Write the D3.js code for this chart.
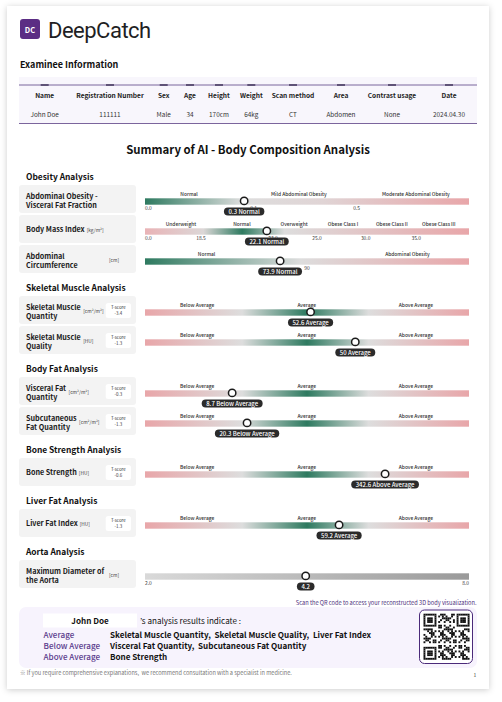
<!DOCTYPE html>
<html><head><meta charset="utf-8">
<script src="https://cdn.jsdelivr.net/npm/d3@7"></script>
<style>
html,body{margin:0;padding:0;background:#fff;}
svg{display:block;}
text{font-family:"Noto Sans CJK KR","Noto Sans",sans-serif;}
.pre{white-space:pre;}
</style></head><body>
<svg id="c" width="502" height="702"></svg>
<script>
// ---------------- DATA ----------------
const examineeFields = ["Name","Registration Number","Sex","Age","Height","Weight","Scan method","Area","Contrast usage","Date"];
const examineeValues = ["John Doe","111111","Male","34","170cm","64kg","CT","Abdomen","None","2024.04.30"];

const sectionTitles = ["Obesity Analysis","Skeletal Muscle Analysis","Body Fat Analysis","Bone Strength Analysis","Liver Fat Analysis","Aorta Analysis"];
const metricNames = [
  ["Abdominal Obesity -","Visceral Fat Fraction"],
  ["Body Mass Index"],
  ["Abdominal","Circumference"],
  ["Skeletal Muscle","Quantity"],
  ["Skeletal Muscle","Quality"],
  ["Visceral Fat","Quantity"],
  ["Subcutaneous","Fat Quantity"],
  ["Bone Strength"],
  ["Liver Fat Index"],
  ["Maximum Diameter of","the Aorta"]
];
const metricSection = [0,0,0,1,1,2,2,3,4,5];
const metricUnits = ["","[kg/m²]","[cm]","[cm²/m²]","[HU]","[cm²/m²]","[cm²/m²]","[HU]","[HU]","[cm]"];
const tScores = [null,null,null,"-3.4","-1.3","-0.3","-1.3","-0.6","-1.3",null];
// marker position along the gauge, in percent of the gauge
const markerPercent = [30.6,37.6,41.7,51.1,64.9,26.9,31.5,74.1,59.9,49.6];
const valueLabels = ["0.3 Normal","22.1 Normal","73.9 Normal","52.6 Average","50 Average","8.7 Below Average","20.3 Below Average","342.6 Above Average","59.2 Average","4.2"];
const tCats = ["Below Average","Average","Above Average"];
const categoryLabels = [
  ["Normal","Mild Abdominal Obesity","Moderate Abdominal Obesity"],
  ["Underweight","Normal","Overweight","Obese Class I","Obese Class II","Obese Class III"],
  ["Normal","Abdominal Obesity"],
  tCats,tCats,tCats,tCats,tCats,tCats,
  []
];
const tickLabels = [
  ["0.0","0.1","0.5"],
  ["0.0","18.5","23.0","25.0","30.0","35.0"],
  ["90"],
  [],[],[],[],[],[],
  ["2.0","8.0"]
];
const summaryName = "John Doe";
const summaryGroups = ["Average","Below Average","Above Average"];
const summaryItems = [
  "Skeletal Muscle Quantity,  Skeletal Muscle Quality,  Liver Fat Index",
  "Visceral Fat Quantity,  Subcutaneous Fat Quantity",
  "Bone Strength"
];

// ---------------- LAYOUT (positions in percent of gauge) ----------------
const catPos = [
  [13.6,47.5,83.6],
  [11.1,29.9,46.0,61.1,76.2,90.7],
  [19,81],
  [16.1,49.9,83.6],[16.1,49.9,83.6],[16.1,49.9,83.6],[16.1,49.9,83.6],[16.1,49.9,83.6],[16.1,49.9,83.6],
  []
];
const tickPos = [
  [0,33.5,65.3],
  [0,17.3,39.5,53.1,68.1,83.7],
  [50],
  [],[],[],[],[],[],
  [0,100]
];
const colX = [44.7,110,163.7,190,219,251.3,293,341,392,449];

const G="#2e7a60", GR="#dddddd", PK="#e8a6a9";
const gradStops = {
  obes:[[0,G],[0.3,GR],[0.55,"#e0d4d5"],[1,PK]],
  bmi:[[0,"#e9b3b6"],[0.18,"#dcd7d7"],[0.3,G],[0.43,GR],[1,PK]],
  circ:[[0,G],[0.48,GR],[1,PK]],
  t:[[0,PK],[0.3,GR],[0.5,G],[0.69,GR],[1,PK]],
  aorta:[[0,"#d9d9d9"],[1,"#9a9a9a"]]
};
const rowGrad = ["obes","bmi","circ","t","t","t","t","t","t","aorta"];

// ---------------- DRAW ----------------
const svg = d3.select("#c");
const defs = svg.append("defs");
const flt = defs.append("filter").attr("id","sh").attr("x","-5%").attr("y","-5%").attr("width","110%").attr("height","110%");
flt.append("feDropShadow").attr("dx",0).attr("dy",1).attr("stdDeviation",3).attr("flood-color","#000").attr("flood-opacity",0.2);
Object.entries(gradStops).forEach(([k,stops])=>{
  const lg = defs.append("linearGradient").attr("id","g_"+k).attr("x1","0%").attr("x2","100%");
  stops.forEach(s=>lg.append("stop").attr("offset",s[0]).attr("stop-color",s[1]));
});

svg.append("rect").attr("x",7).attr("y",6).attr("width",482).attr("height",683).attr("fill","#fff").attr("filter","url(#sh)");

// logo
svg.append("rect").attr("x",20).attr("y",19).attr("width",20).attr("height",20).attr("rx",3).attr("fill","#5b2d84");
svg.append("text").attr("x",30).attr("y",29.5).attr("text-anchor","middle").attr("dominant-baseline","central")
  .attr("fill","#fff").attr("font-size",7.5).attr("font-weight",700).text("DC");
svg.append("text").attr("x",48).attr("y",37.5).style("font-family","Roboto")
  .attr("font-size",22).attr("letter-spacing",-0.5).attr("fill","#1f1f24").text("DeepCatch");

// examinee info
svg.append("text").attr("x",20).attr("y",64.5).attr("dominant-baseline","central").attr("font-size",9)
  .attr("font-weight",700).attr("fill","#111").text("Examinee Information");
svg.append("rect").attr("x",19).attr("y",77).attr("width",458).attr("height",47).attr("fill","#f8f6fc");
svg.append("line").attr("x1",19).attr("x2",477).attr("y1",85).attr("y2",85).attr("stroke","#6c5592").attr("stroke-width",0.9);
svg.append("line").attr("x1",19).attr("x2",477).attr("y1",123.5).attr("y2",123.5).attr("stroke","#6c5592").attr("stroke-width",0.9);
const cols = svg.append("g").selectAll("g").data(examineeFields).join("g");
cols.append("rect").attr("x",(d,i)=>colX[i]-4).attr("y",84.2).attr("width",8).attr("height",1.6).attr("fill","#4a3d63");
cols.append("text").attr("x",(d,i)=>colX[i]).attr("y",94.8).attr("text-anchor","middle").attr("dominant-baseline","central")
  .attr("font-size",6.6).attr("font-weight",700).attr("fill","#222").text(d=>d);
cols.append("text").attr("x",(d,i)=>colX[i]).attr("y",114.3).attr("text-anchor","middle").attr("dominant-baseline","central")
  .attr("font-size",6.4).attr("fill","#333").text((d,i)=>examineeValues[i]);

// title
svg.append("text").attr("x",248).attr("y",149).attr("text-anchor","middle").attr("dominant-baseline","central")
  .attr("font-size",11.4).attr("font-weight",700).attr("fill","#111").text("Summary of AI - Body Composition Analysis");

// gauge scale
const X0=145, X1=469;
const xs = d3.scaleLinear().domain([0,100]).range([X0,X1]);

let y = 176;
sectionTitles.forEach((title,si)=>{
  svg.append("text").attr("x",26).attr("y",y).attr("dominant-baseline","central").attr("font-size",8.4)
    .attr("font-weight",700).attr("fill","#111").text(title);
  const rows = metricSection.map((s,i)=>s===si?i:-1).filter(i=>i>=0);
  rows.forEach((mi,ri)=>{
    const top = y+9+30*ri;
    const g = svg.append("g");
    g.append("rect").attr("x",19).attr("y",top).attr("width",117).attr("height",28).attr("rx",3).attr("fill","#f3f3f3");
    const lines = metricNames[mi];
    const lineY = lines.length===1 ? [top+14] : [top+10.6,top+19.8];
    let maxW = 0;
    lines.forEach((ln,li)=>{
      const t = g.append("text").attr("x",26).attr("y",lineY[li]).attr("dominant-baseline","central")
        .attr("font-size",7.2).attr("font-weight",700).attr("fill","#1a1a1a").text(ln);
      maxW = Math.max(maxW, t.node().getComputedTextLength());
    });
    if (metricUnits[mi]) {
      const u = g.append("text").attr("dominant-baseline","central").attr("font-size",4.8).attr("fill","#444").text(metricUnits[mi]);
      if (lines.length===1) u.attr("x",26+maxW+2).attr("y",top+14.3);
      else if (tScores[mi]===null) u.attr("x",Math.max(109,26+maxW+3)).attr("y",top+14.5);
      else u.attr("x",26+maxW+2.5).attr("y",top+14.5);
    }
    if (tScores[mi]!==null) {
      g.append("rect").attr("x",105.7).attr("y",top+7).attr("width",25.3).attr("height",15).attr("rx",2.5).attr("fill","#fff");
      g.append("text").attr("x",118.3).attr("y",top+11.3).attr("text-anchor","middle").attr("dominant-baseline","central")
        .attr("font-size",4.4).attr("fill","#333").text("T-score");
      g.append("text").attr("x",118.3).attr("y",top+17.3).attr("text-anchor","middle").attr("dominant-baseline","central")
        .attr("font-size",4.4).attr("fill","#333").text(tScores[mi]);
    }
    // gauge
    const by = top+16.5;
    g.append("rect").attr("x",X0).attr("y",by-3.2).attr("width",X1-X0).attr("height",6.4).attr("fill","url(#g_"+rowGrad[mi]+")");
    g.selectAll("text.cat").data(categoryLabels[mi]).join("text").attr("class","cat")
      .attr("x",(d,i)=>xs(catPos[mi][i])).attr("y",by-8.5).attr("text-anchor","middle").attr("dominant-baseline","central")
      .attr("font-size",4.9).attr("font-weight",500).attr("fill","#333").text(d=>d);
    g.selectAll("text.tick").data(tickLabels[mi]).join("text").attr("class","tick")
      .attr("x",(d,i)=>xs(tickPos[mi][i])).attr("y",by+6.3).attr("dominant-baseline","central")
      .attr("text-anchor",(d,i)=>tickPos[mi][i]===0?"start":(tickPos[mi][i]===100?"end":"middle"))
      .attr("font-size",4.9).attr("fill","#333").text(d=>d);
    const mx = xs(markerPercent[mi]);
    const pill = g.append("g");
    const pt = pill.append("text").attr("x",mx).attr("y",by+10).attr("text-anchor","middle").attr("dominant-baseline","central")
      .attr("font-size",6).attr("font-weight",500).attr("fill","#fff").text(valueLabels[mi]);
    const w = pt.node().getComputedTextLength()+9;
    pill.insert("rect","text").attr("x",mx-w/2).attr("y",by+6).attr("width",w).attr("height",8).attr("rx",4).attr("fill","#2b2b2b");
    g.append("circle").attr("cx",mx).attr("cy",by-0.6).attr("r",3.7).attr("fill","#fff").attr("stroke","#1b1b1b").attr("stroke-width",1.5);
  });
  y = y + 9 + 30*rows.length + 12;
});

// QR caption
svg.append("text").attr("x",476.5).attr("y",602.7).attr("text-anchor","end").attr("dominant-baseline","central")
  .attr("font-size",5.65).attr("fill","#4b2e7c").text("Scan the QR code to access your reconstructed 3D body visualization.");

// summary box
svg.append("rect").attr("x",19).attr("y",607).attr("width",458).attr("height",61).attr("rx",7).attr("fill","#f7f3fd");
svg.append("rect").attr("x",43).attr("y",613.5).attr("width",94).attr("height",14).attr("fill","#fff");
svg.append("text").attr("x",90).attr("y",620.7).attr("text-anchor","middle").attr("dominant-baseline","central")
  .attr("font-size",8.1).attr("font-weight",700).attr("fill","#111").text(summaryName);
svg.append("text").attr("x",140).attr("y",620.7).attr("dominant-baseline","central")
  .attr("font-size",8.1).attr("fill","#111").text("’s analysis results indicate :");
summaryGroups.forEach((gname,i)=>{
  const yy = 634.3 + i*11.2;
  svg.append("text").attr("x",43.5).attr("y",yy).attr("dominant-baseline","central").attr("font-size",8.1)
    .attr("font-weight",500).attr("fill","#5a3b8c").text(gname);
  svg.append("text").attr("class","pre").attr("x",110).attr("y",yy).attr("dominant-baseline","central").attr("font-size",8.1)
    .attr("font-weight",700).attr("fill","#111").text(summaryItems[i]);
});

// QR decoration
svg.append("rect").attr("x",419.5).attr("y",610).attr("width",53).attr("height",53.5).attr("rx",5).attr("fill","#fff")
  .attr("stroke","#4b2a7a").attr("stroke-width",1);
const N=25, qs=46/N, qx=423.5, qy=613.7;
const cells=[];
for(let r=0;r<N;r++)for(let c=0;c<N;c++){
  const inF=(rr,cc)=>rr>=0&&rr<7&&cc>=0&&cc<7;
  let on;
  const f = [[r,c],[r,c-(N-7)],[r-(N-7),c]].find(([a,b])=>inF(a,b));
  if(f){const [a,b]=f; on = (a===0||a===6||b===0||b===6)||(a>=2&&a<=4&&b>=2&&b<=4);}
  else if((r<8&&c<8)||(r<8&&c>=N-8)||(r>=N-8&&c<8)) on=false;
  else on = ((r*17+c*31+r*c*7)%11)<5;
  if(on) cells.push([r,c]);
}
svg.append("g").selectAll("rect").data(cells).join("rect").attr("x",d=>qx+d[1]*qs).attr("y",d=>qy+d[0]*qs)
  .attr("width",qs+0.05).attr("height",qs+0.05).attr("fill","#111");

// footer
svg.append("text").attr("x",20).attr("y",673).attr("dominant-baseline","central").attr("font-size",5.6)
  .attr("fill","#777").text("※ If you require comprehensive explanations,  we recommend consultation with a specialist in medicine.").attr("class","pre");
svg.append("text").attr("x",475).attr("y",674).attr("text-anchor","middle").attr("dominant-baseline","central").attr("font-size",5)
  .attr("fill","#333").text("1");
</script>
</body></html>
